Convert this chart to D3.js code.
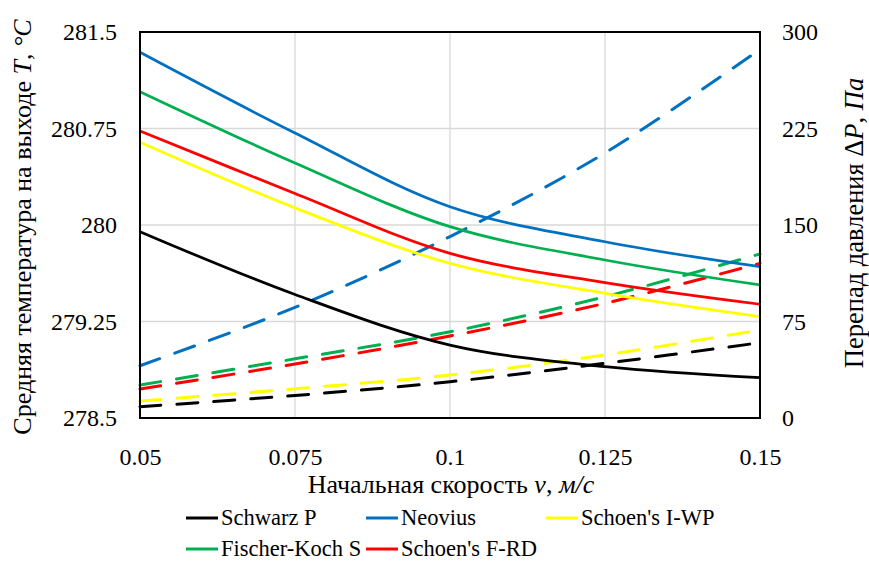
<!DOCTYPE html>
<html>
<head>
<meta charset="utf-8">
<script src="https://cdn.jsdelivr.net/npm/d3@7"></script>
<style>
  body { margin: 0; background: #fff; }
</style>
</head>
<body>
<svg id="svg"></svg>
<script>
const width = 869;
const height = 561;
const serif = "Liberation Serif";

// x values (initial velocity, m/s)
const velocity = [0.05, 0.075, 0.1, 0.125, 0.15];

// mean outlet temperature, °C (solid lines, left axis)
const tempSchwarzP = [279.948, 279.46, 279.067, 278.899, 278.813];
const tempNeovius = [281.342, 280.715, 280.142, 279.87, 279.676];
const tempIWP = [280.643, 280.133, 279.702, 279.469, 279.288];
const tempFischer = [281.036, 280.482, 279.987, 279.728, 279.534];
const tempFRD = [280.731, 280.245, 279.78, 279.552, 279.384];

// pressure drop, Pa (dashed lines, right axis)
const dpSchwarzP = [8.8, 17.5, 28.2, 42.5, 58.5];
const dpNeovius = [40.6, 86, 141, 206, 286.5];
const dpIWP = [13.2, 22.7, 33.4, 49, 68.4];
const dpFischer = [25.6, 46, 67, 94.3, 127.5];
const dpFRD = [22.5, 42, 63.7, 89.1, 120.2];

const seriesNames = ["Schwarz P", "Neovius", "Schoen's I-WP", "Fischer-Koch S", "Schoen's F-RD"];
const seriesColors = ["#000000", "#0070C0", "#FFFF00", "#00B050", "#FF0000"];

const xTicks = [0.05, 0.075, 0.1, 0.125, 0.15];
const xTickLabels = ["0.05", "0.075", "0.1", "0.125", "0.15"];
const tempTicks = [278.5, 279.25, 280, 280.75, 281.5];
const tempTickLabels = ["278.5", "279.25", "280", "280.75", "281.5"];
const dpTicks = [0, 75, 150, 225, 300];

const tempSeries = [tempSchwarzP, tempNeovius, tempIWP, tempFischer, tempFRD];
const dpSeries = [dpSchwarzP, dpNeovius, dpIWP, dpFischer, dpFRD];

const margin = { top: 32, right: 109, bottom: 143, left: 140 };
const chartWidth = width - margin.left - margin.right;
const chartHeight = height - margin.top - margin.bottom;

let svg = d3.select("#svg").attr("width", width).attr("height", height);

let chart = svg.append("g")
    .attr("transform", "translate(" + margin.left + "," + margin.top + ")");

let xScale = d3.scaleLinear().domain([0.05, 0.15]).range([0, chartWidth]);
let yTemp = d3.scaleLinear().domain([278.5, 281.5]).range([chartHeight, 0]);
let yDp = d3.scaleLinear().domain([0, 300]).range([chartHeight, 0]);

// gridlines
chart.append("g")
    .selectAll("line")
    .data(tempTicks)
    .join("line")
    .attr("x1", 0).attr("x2", chartWidth)
    .attr("y1", d => yTemp(d)).attr("y2", d => yTemp(d))
    .attr("stroke", "#D9D9D9").attr("stroke-width", 1.3);

chart.append("g")
    .selectAll("line")
    .data(xTicks)
    .join("line")
    .attr("x1", d => xScale(d)).attr("x2", d => xScale(d))
    .attr("y1", 0).attr("y2", chartHeight)
    .attr("stroke", "#D9D9D9").attr("stroke-width", 1.3);

// axes (labels only, the frame is drawn separately)
let xAxis = chart.append("g")
    .attr("transform", `translate(0,${chartHeight})`)
    .call(d3.axisBottom(xScale).tickValues(xTicks).tickFormat((d, i) => xTickLabels[i]).tickSize(0).tickPadding(30));
let yAxisLeft = chart.append("g")
    .call(d3.axisLeft(yTemp).tickValues(tempTicks).tickFormat((d, i) => tempTickLabels[i]).tickSize(0).tickPadding(23));
let yAxisRight = chart.append("g")
    .attr("transform", `translate(${chartWidth},0)`)
    .call(d3.axisRight(yDp).tickValues(dpTicks).tickSize(0).tickPadding(22));

[xAxis, yAxisLeft, yAxisRight].forEach(a => {
    a.select(".domain").remove();
    a.selectAll("text")
        .attr("fill", "#000")
        .style("font-family", serif)
        .style("font-size", "24px");
});

// lines
const tempLine = d3.line()
    .x((d, i) => xScale(velocity[i]))
    .y(d => yTemp(d))
    .curve(d3.curveCatmullRom);
const dpLine = d3.line()
    .x((d, i) => xScale(velocity[i]))
    .y(d => yDp(d))
    .curve(d3.curveCatmullRom);

let plot = chart.append("g");

// dashed lines first, solid lines on top
const order = [0, 2, 4, 3, 1];
order.forEach(k => {
    plot.append("path")
        .attr("d", dpLine(dpSeries[k]))
        .attr("fill", "none")
        .attr("stroke", seriesColors[k])
        .attr("stroke-width", 3)
        .attr("stroke-linecap", "round")
        .attr("stroke-dasharray", "21,16");
});
order.forEach(k => {
    plot.append("path")
        .attr("d", tempLine(tempSeries[k]))
        .attr("fill", "none")
        .attr("stroke", seriesColors[k])
        .attr("stroke-width", 2.75);
});

// plot border
chart.append("rect")
    .attr("x", 0).attr("y", 0)
    .attr("width", chartWidth).attr("height", chartHeight)
    .attr("fill", "none")
    .attr("stroke", "#000")
    .attr("stroke-width", 2);

// axis titles
let xTitle = svg.append("text")
    .attr("x", margin.left + chartWidth / 2 + 1)
    .attr("y", 493)
    .attr("text-anchor", "middle")
    .style("font-family", serif)
    .style("font-size", "26px");
xTitle.append("tspan").text("Начальная скорость ");
xTitle.append("tspan").style("font-style", "italic").text("v");
xTitle.append("tspan").text(", ");
xTitle.append("tspan").style("font-style", "italic").text("м/с");

let yTitle = svg.append("text")
    .attr("transform", "translate(31,227) rotate(-90)")
    .attr("text-anchor", "middle")
    .style("font-family", serif)
    .style("font-size", "26px");
yTitle.append("tspan").text("Средняя температура на выходе ");
yTitle.append("tspan").style("font-style", "italic").text("T");
yTitle.append("tspan").text(", ");
yTitle.append("tspan").style("font-style", "italic").text("°C");

let y2Title = svg.append("text")
    .attr("transform", "translate(863,223) rotate(-90)")
    .attr("text-anchor", "middle")
    .style("font-family", serif)
    .style("font-size", "26.5px");
y2Title.append("tspan").text("Перепад давления Δ");
y2Title.append("tspan").style("font-style", "italic").text("P");
y2Title.append("tspan").text(", ");
y2Title.append("tspan").style("font-style", "italic").text("Па");

// legend
const legendX = [186, 366, 546, 186, 366];
const legendY = [518, 518, 518, 549, 549];
let legend = svg.append("g");
seriesNames.forEach((name, i) => {
    let g = legend.append("g").attr("transform", `translate(${legendX[i]},${legendY[i]})`);
    g.append("line")
        .attr("x1", 0).attr("x2", 32)
        .attr("y1", 0).attr("y2", 0)
        .attr("stroke", seriesColors[i])
        .attr("stroke-width", 3);
    g.append("text")
        .attr("x", 35)
        .attr("y", 7)
        .style("font-family", serif)
        .style("font-size", "22.5px")
        .text(name);
});
</script>
</body>
</html>
